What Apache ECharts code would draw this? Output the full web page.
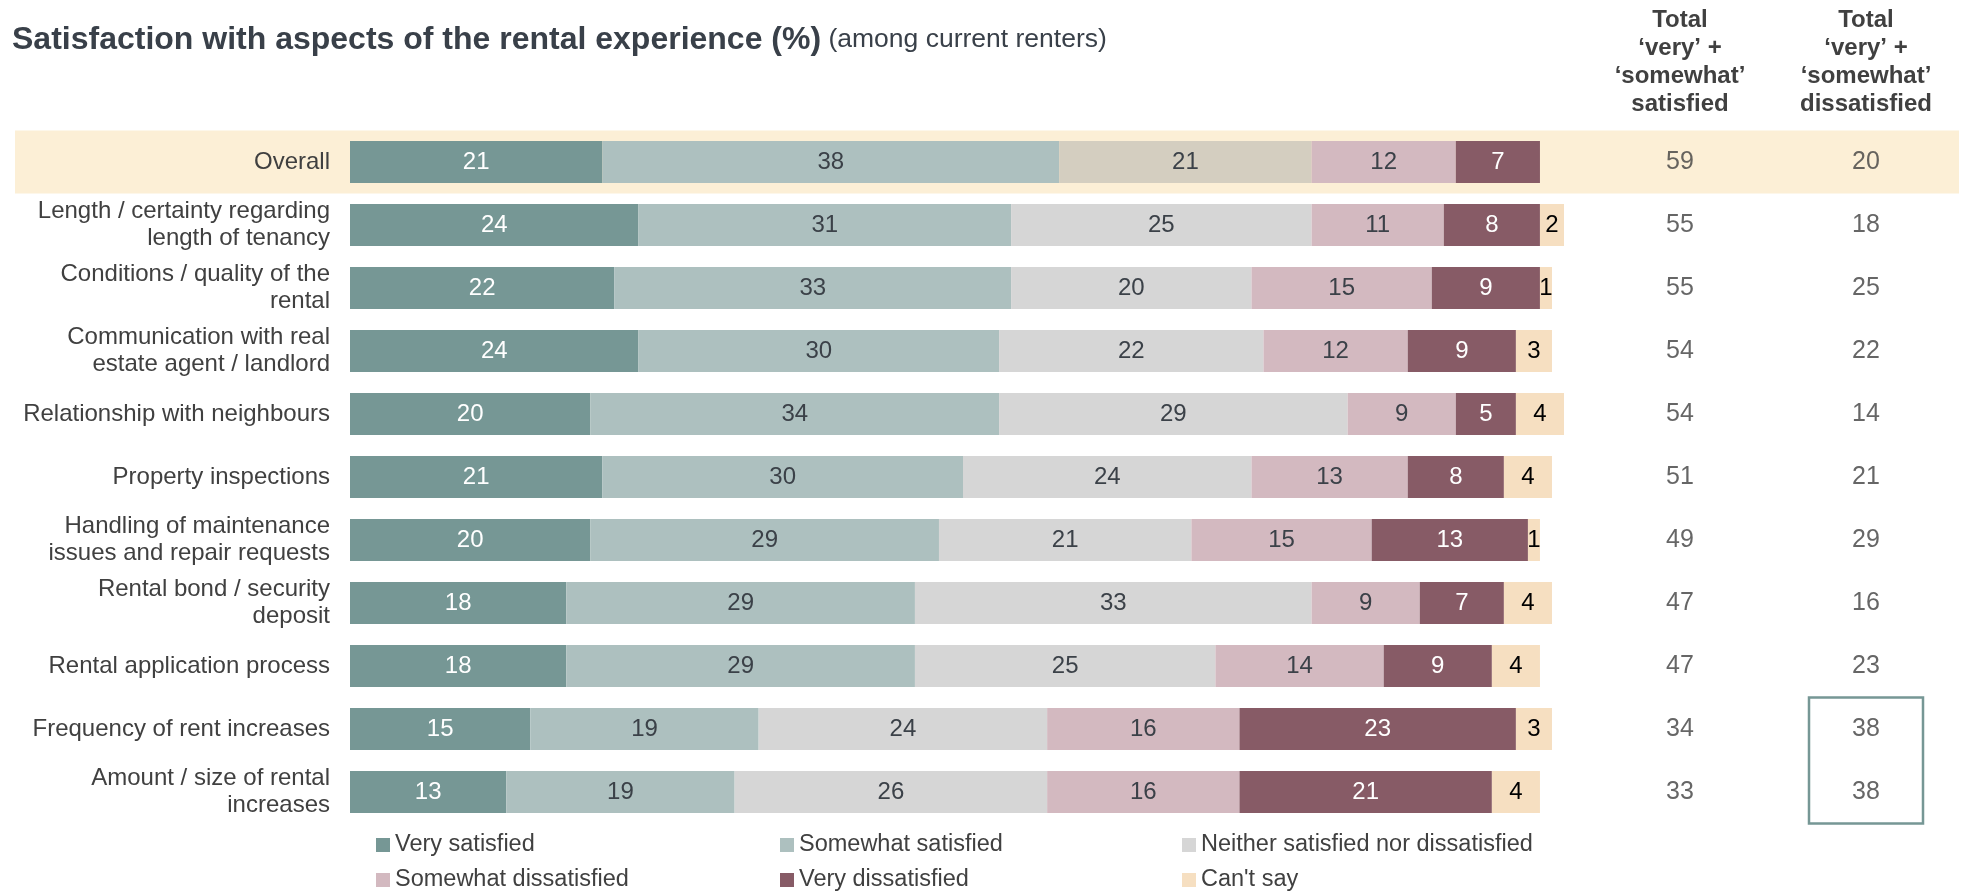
<!DOCTYPE html>
<html>
<head>
<meta charset="utf-8">
<script src="https://cdn.jsdelivr.net/npm/echarts@6/dist/echarts.min.js"></script>
<style>
  html, body { margin: 0; padding: 0; background: #ffffff; }
  #chart { width: 1966px; height: 891px; }
</style>
</head>
<body>
<div id="chart"></div>
<script>
// Aspects of the rental experience, top to bottom
const categories = [
  'Overall',
  'Length / certainty regarding\nlength of tenancy',
  'Conditions / quality of the\nrental',
  'Communication with real\nestate agent / landlord',
  'Relationship with neighbours',
  'Property inspections',
  'Handling of maintenance\nissues and repair requests',
  'Rental bond / security\ndeposit',
  'Rental application process',
  'Frequency of rent increases',
  'Amount / size of rental\nincreases'
];

// Percentages per response, same order as categories
const verySatisfied        = [21, 24, 22, 24, 20, 21, 20, 18, 18, 15, 13];
const somewhatSatisfied    = [38, 31, 33, 30, 34, 30, 29, 29, 29, 19, 19];
const neitherNor           = [21, 25, 20, 22, 29, 24, 21, 33, 25, 24, 26];
const somewhatDissatisfied = [12, 11, 15, 12,  9, 13, 15,  9, 14, 16, 16];
const veryDissatisfied     = [ 7,  8,  9,  9,  5,  8, 13,  7,  9, 23, 21];
const cantSay              = [null, 2, 1,  3,  4,  4,  1,  4,  4,  3,  4];

// Summary columns on the right
const totalSatisfied    = [59, 55, 55, 54, 54, 51, 49, 47, 47, 34, 33];
const totalDissatisfied = [20, 18, 25, 22, 14, 21, 29, 16, 23, 38, 38];
const totalHeaders = [
  'Total\n\u2018very\u2019 +\n\u2018somewhat\u2019\nsatisfied',
  'Total\n\u2018very\u2019 +\n\u2018somewhat\u2019\ndissatisfied'
];
// Rows whose dissatisfied total is outlined
const outlinedRows = [9, 10];

const responseNames = [
  'Very satisfied',
  'Somewhat satisfied',
  'Neither satisfied nor dissatisfied',
  'Somewhat dissatisfied',
  'Very dissatisfied',
  "Can't say"
];
const responseValues = [verySatisfied, somewhatSatisfied, neitherNor, somewhatDissatisfied, veryDissatisfied, cantSay];
const responseColors = ['#769795', '#adc0bf', '#d6d6d6', '#d3b9c0', '#875b66', '#f6dfc1'];
const labelColors    = ['#ffffff', '#3b4148', '#3b4148', '#3b4148', '#ffffff', '#000000'];

const FONT = "'Liberation Sans', Arial, 'Helvetica Neue', sans-serif";
const TEXT = '#404040';
const OVERALL_NEITHER = '#d4cec0';

const chart = echarts.init(document.getElementById('chart'), null, { renderer: 'canvas' });

const barSeries = responseNames.map((name, s) => ({
  name: name,
  type: 'bar',
  stack: 'all',
  xAxisIndex: 0,
  yAxisIndex: 0,
  barWidth: 42,
  z: 3,
  itemStyle: { color: responseColors[s] },
  label: {
    show: true,
    position: 'inside',
    fontFamily: FONT,
    fontSize: 24,
    color: labelColors[s],
    formatter: p => (p.value == null ? '' : String(p.value))
  },
  data: responseValues[s].map((v, i) => {
    if (s === 2 && i === 0) {
      return { value: v, itemStyle: { color: OVERALL_NEITHER } };
    }
    return v;
  })
}));

const totalSeries = {
  type: 'scatter',
  xAxisIndex: 1,
  yAxisIndex: 1,
  symbolSize: 1,
  z: 3,
  itemStyle: { color: 'transparent' },
  label: {
    show: true,
    position: 'inside',
    fontFamily: FONT,
    fontSize: 25,
    color: TEXT,
    formatter: p => String(p.value[2])
  },
  data: [].concat(
    totalSatisfied.map((v, i) => [0, i, v]),
    totalDissatisfied.map((v, i) => [1, i, v])
  )
};

const legendSlots = [
  { left: 376, top: 833 }, { left: 780, top: 833 }, { left: 1182, top: 833 },
  { left: 376, top: 868 }, { left: 780, top: 868 }, { left: 1182, top: 868 }
];

const option = {
  backgroundColor: '#ffffff',
  animation: false,
  title: {
    left: 12,
    top: 24,
    padding: 0,
    text: '{main|Satisfaction with aspects of the rental experience (%)}{sub| (among current renters)}',
    textStyle: {
      rich: {
        main: { fontFamily: FONT, fontSize: 32, fontWeight: 'bold', color: '#394049' },
        sub: { fontFamily: FONT, fontSize: 26.5, fontWeight: 'normal', color: '#394049' }
      }
    }
  },
  grid: [
    { left: 350, top: 130.5, width: 1214, height: 693, outerBoundsMode: 'none', containLabel: false },
    { left: 1587, top: 130.5, width: 372, height: 693, outerBoundsMode: 'none', containLabel: false }
  ],
  xAxis: [
    { type: 'value', gridIndex: 0, min: 0, max: 101, show: false },
    {
      type: 'category', gridIndex: 1, position: 'top', data: totalHeaders,
      axisLine: { show: false }, axisTick: { show: false }, splitLine: { show: false },
      axisLabel: {
        interval: 0, margin: 12,
        fontFamily: FONT, fontSize: 24, fontWeight: 'bold', lineHeight: 28,
        color: TEXT, align: 'center'
      }
    }
  ],
  yAxis: [
    {
      type: 'category', gridIndex: 0, inverse: true, data: categories,
      axisLine: { show: false }, axisTick: { show: false }, splitLine: { show: false },
      axisLabel: {
        interval: 0, margin: 20, align: 'right',
        fontFamily: FONT, fontSize: 24, lineHeight: 27, color: TEXT
      }
    },
    {
      type: 'category', gridIndex: 1, inverse: true, data: categories, show: false
    }
  ],
  legend: responseNames.map((name, s) => ({
    data: [name],
    left: legendSlots[s].left,
    top: legendSlots[s].top,
    padding: 0,
    icon: 'rect',
    itemWidth: 14,
    itemHeight: 14,
    selectedMode: false,
    textStyle: { fontFamily: FONT, fontSize: 23.5, color: TEXT }
  })),
  series: barSeries.concat([totalSeries])
};

chart.setOption(option);

// Highlight band behind the Overall row and outline around the largest dissatisfied totals
const rowY = i => chart.convertToPixel({ yAxisIndex: 0 }, i);
const step = rowY(1) - rowY(0);
const bandTop = rowY(0) - step / 2;
const boxX = chart.convertToPixel({ xAxisIndex: 1 }, 1);
const boxTop = rowY(outlinedRows[0]) - step / 2;
const boxBottom = rowY(outlinedRows[outlinedRows.length - 1]) + step / 2;

chart.setOption({
  graphic: [
    {
      type: 'rect', z: -10, silent: true,
      shape: { x: 15, y: bandTop, width: 1944, height: step },
      style: { fill: '#fcefd6' }
    },
    {
      type: 'rect', z: 10, silent: true,
      shape: { x: boxX - 57, y: boxTop, width: 114, height: boxBottom - boxTop },
      style: { fill: 'none', stroke: '#769795', lineWidth: 2.5 }
    }
  ]
});
</script>
</body>
</html>
